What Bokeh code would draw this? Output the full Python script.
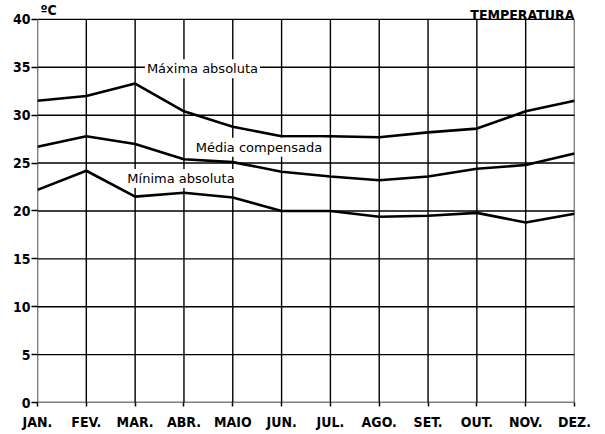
from bokeh.plotting import figure
from bokeh.models import Range1d, FixedTicker, Label
from bokeh.core.properties import value
from bokeh.embed import file_html
from bokeh.resources import INLINE

months = ["JAN.", "FEV.", "MAR.", "ABR.", "MAIO", "JUN.", "JUL.", "AGO.", "SET.", "OUT.", "NOV.", "DEZ."]
maxima = [31.5, 32.0, 33.3, 30.4, 28.8, 27.8, 27.8, 27.7, 28.2, 28.6, 30.4, 31.5]
media = [26.7, 27.8, 27.0, 25.4, 25.1, 24.1, 23.6, 23.2, 23.6, 24.4, 24.8, 26.0]
minima = [22.2, 24.2, 21.5, 21.9, 21.4, 20.0, 20.0, 19.4, 19.5, 19.8, 18.8, 19.7]
y_ticks = [0, 5, 10, 15, 20, 25, 30, 35, 40]

FONT = "DejaVu Sans"
FONT_C = "DejaVu Sans Condensed"
xs = list(range(len(months)))
x_last = len(months) - 1
y_top = y_ticks[-1]

# frame reaches the top of the canvas so the texts above the grid can be drawn
p = figure(width=603, height=432, output_backend="svg", toolbar_location=None,
           x_range=Range1d(0, x_last), y_range=Range1d(0, y_top + 19 / 9.625),
           min_border_left=37, min_border_right=29, min_border_top=0, min_border_bottom=28)
p.outline_line_color = None
p.xgrid.visible = False
p.ygrid.visible = False

p.xaxis.ticker = FixedTicker(ticks=xs)
p.xaxis.major_label_overrides = {i: m for i, m in enumerate(months)}
p.yaxis.ticker = FixedTicker(ticks=y_ticks)

for ax in (p.xaxis[0], p.yaxis[0]):
    ax.axis_line_color = None
    ax.minor_tick_line_color = None
    ax.major_tick_in = 0
    ax.major_tick_line_color = "black"
    ax.major_tick_line_width = 1.5
    ax.major_label_text_font = FONT_C
    ax.major_label_text_font_style = "bold"
    ax.major_label_text_color = "black"
    ax.major_label_text_font_size = "14px"

p.xaxis.major_tick_out = 4
p.xaxis.major_label_standoff = 7
p.yaxis.major_tick_out = 6
p.yaxis.major_label_standoff = 1

# grid, limited to 0..40
p.segment(x0=[0] * len(y_ticks), x1=[x_last] * len(y_ticks), y0=y_ticks, y1=y_ticks,
          line_color="black", line_width=1.4)
p.segment(x0=xs, x1=xs, y0=[0] * len(xs), y1=[y_top] * len(xs),
          line_color="black", line_width=1.4)

for series in (maxima, media, minima):
    p.line(xs, series, line_color="black", line_width=2.6)

def note(text, x, y):
    p.add_layout(Label(x=x, y=y, text=text, text_font=FONT, text_font_size="13px",
                       text_color="black", text_baseline="middle",
                       background_fill_color="white", padding=2))

note("Máxima absoluta", 2.2, 34.85)
note("Média compensada", 3.2, 26.65)
note("Mínima absoluta", 1.8, 23.4)

p.text(x=[0.06], y=[40.95], text=["ºC"], text_font=value(FONT_C), text_font_size="14px",
       text_font_style="bold", text_color="black", text_baseline="middle")
p.text(x=[x_last], y=[40.45], text=["TEMPERATURA"], text_font=value(FONT_C),
       text_font_style="bold", text_font_size="14px", text_color="black",
       text_align="right", text_baseline="middle")

open("out.html", "w").write(file_html(p, INLINE))
